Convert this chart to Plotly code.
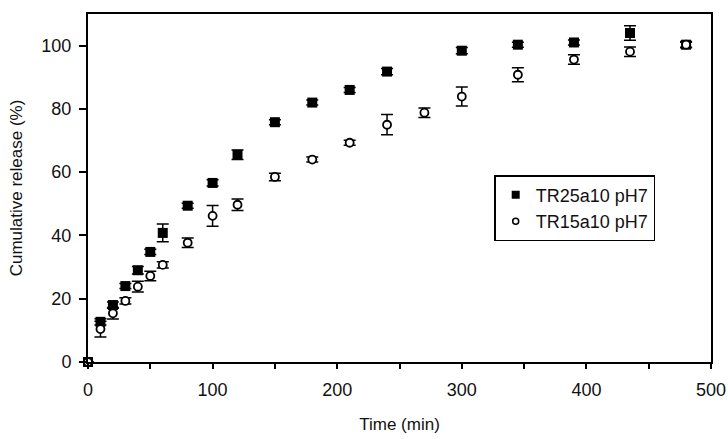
import plotly.graph_objects as go

time_min = [0, 10, 20, 30, 40, 50, 60, 80, 100, 120, 150, 180, 210, 240, 300, 345, 390, 435, 480]
tr25_release = [0, 12.7, 18, 24, 29, 34.8, 40.8, 49.4, 56.6, 65.5, 75.8, 82, 86, 91.8, 98.4, 100.3, 101, 104, 100.3]
tr25_err = [0, 1, 1, 0.8, 1.2, 0.8, 2.8, 0.8, 1, 1.5, 0.8, 0.8, 0.8, 1, 1, 0.8, 0.8, 2.3, 0.8]

time15_min = [0, 10, 20, 30, 40, 50, 60, 80, 100, 120, 150, 180, 210, 240, 270, 300, 345, 390, 435, 480]
tr15_release = [0, 10.4, 15.4, 19.3, 23.8, 27.2, 30.7, 37.7, 46.2, 49.7, 58.5, 64, 69.3, 75, 78.8, 83.9, 90.8, 95.6, 98.1, 100.3]
tr15_err = [0, 2.5, 1.8, 1, 1.7, 1.5, 1, 1.5, 3.3, 1.8, 1.2, 0.8, 0.8, 3.2, 1.5, 3, 2.2, 1.5, 1.5, 1]

series_names = ["TR25a10 pH7", "TR15a10 pH7"]
x_ticks = [0, 100, 200, 300, 400, 500]
y_ticks = [0, 20, 40, 60, 80, 100]

FONT = "Liberation Sans, Arial, sans-serif"
TXT = "#111111"

fig = go.Figure()
fig.add_trace(go.Scatter(
    x=time_min, y=tr25_release, mode="markers", name=series_names[0], showlegend=False,
    marker=dict(symbol="square", size=10, color="black", line=dict(width=0)),
    error_y=dict(type="data", array=tr25_err, visible=True, color="black", thickness=1.5, width=6),
    cliponaxis=False,
))
fig.add_trace(go.Scatter(
    x=time15_min, y=tr15_release, mode="markers", name=series_names[1], showlegend=False,
    marker=dict(symbol="circle", size=8, color="white", line=dict(width=1.8, color="black")),
    error_y=dict(type="data", array=tr15_err, visible=True, color="black", thickness=1.5, width=6),
    cliponaxis=False,
))
# legend entries (smaller symbols, as in the reference key)
fig.add_trace(go.Scatter(
    x=[None], y=[None], mode="markers", name=series_names[0],
    marker=dict(symbol="square", size=8, color="black", line=dict(width=0)),
))
fig.add_trace(go.Scatter(
    x=[None], y=[None], mode="markers", name=series_names[1],
    marker=dict(symbol="circle", size=6, color="white", line=dict(width=1.5, color="black")),
))

fig.update_layout(
    width=728, height=439,
    margin=dict(l=88, r=17, t=14, b=77),
    paper_bgcolor="white", plot_bgcolor="white",
    font=dict(family=FONT, size=18, color=TXT),
    showlegend=True,
    legend=dict(
        x=0.652, y=0.537, xanchor="left", yanchor="top",
        bgcolor="white", bordercolor="black", borderwidth=1.5,
        font=dict(family=FONT, size=18, color=TXT),
        itemwidth=30, tracegroupgap=0,
    ),
    xaxis=dict(
        range=[0, 500], tickvals=x_ticks, showgrid=False, zeroline=False,
        showline=True, linecolor="black", linewidth=2, mirror=True,
        ticks="outside", ticklen=5, tickwidth=2, tickcolor="black",
        minor=dict(dtick=50, ticks="outside", ticklen=5, tickwidth=2, tickcolor="black", showgrid=False),
        title=dict(text="Time (min)", font=dict(size=17), standoff=20),
        tickfont=dict(size=18), ticklabelstandoff=5, automargin=False,
    ),
    yaxis=dict(
        range=[0, 110], tickvals=y_ticks, showgrid=False, zeroline=False,
        showline=True, linecolor="black", linewidth=2, mirror=True,
        ticks="outside", ticklen=7, tickwidth=2, tickcolor="black",
        title=dict(text="Cumulative release (%)", font=dict(size=17), standoff=14),
        tickfont=dict(size=18), ticklabelstandoff=4, automargin=False,
    ),
)

fig.write_html("out.html")
